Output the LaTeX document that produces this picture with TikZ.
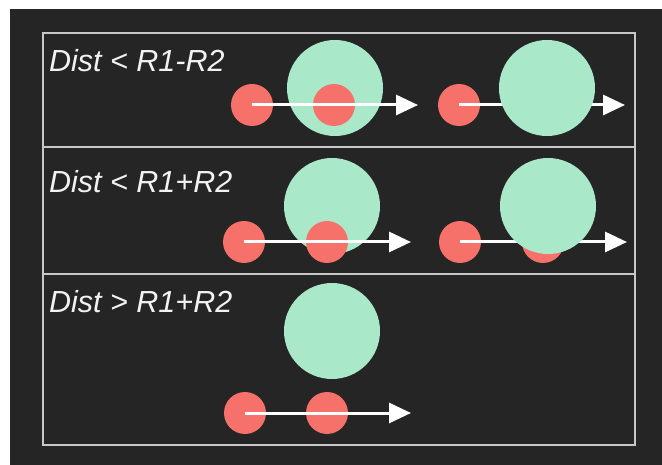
\documentclass[tikz,border=0pt]{standalone}
\usepackage{fontspec}
\setmainfont{Liberation Sans}
\usetikzlibrary{arrows.meta}
\definecolor{bgdark}{HTML}{252525}
\definecolor{framegray}{HTML}{C8C8C8}
\definecolor{redball}{HTML}{F6716A}
\definecolor{greenball}{HTML}{A9E9CA}
\definecolor{txt}{HTML}{F2F2F2}
\tikzset{
  small/.style={circle, fill=redball, minimum size=42pt, inner sep=0pt, draw=none},
  big/.style={circle, fill=greenball, minimum size=96pt, inner sep=0pt, draw=none},
  motion/.style={draw=white, line width=3pt, -{Triangle[length=22pt,width=20pt]}},
  label/.style={anchor=base west, inner sep=0pt, text=txt, font=\fontsize{30.5}{36}\selectfont\itshape},
  framebox/.style={draw=framegray, line width=1.5pt}
}
\begin{document}
\begin{tikzpicture}[x=1pt,y=-1pt]
\useasboundingbox (0,0) rectangle (662,465);
\fill[white] (0,0) rectangle (662,465);
\fill[bgdark] (10,9) rectangle (662,465);
% frame and dividers
\draw[framebox] (43,33) rectangle (635,445);
\draw[framebox] (43,147) -- (635,147);
\draw[framebox] (43,274) -- (635,274);
% labels
\node[label] (t1) at (49,72) {Dist < R1-R2};
\node[label] (t2) at (49,193) {Dist < R1+R2};
\node[label] (t3) at (49,313) {Dist > R1+R2};
% row 1 left
\node[small] (a1) at (252,105) {};
\node[big] (ag) at (335,88) {};
\node[small] (a2) at (334,105) {};
\coordinate (ae) at (418,105);
\draw[motion] (a1.center) -- (ae);
% row 1 right
\node[small] (b1) at (459,105) {};
\node[small] (b2) at (541,105) {};
\coordinate (be) at (625,105);
\draw[motion] (b1.center) -- (be);
\node[big] (bg) at (547,88) {};
% row 2 left
\node[small] (c1) at (244,242) {};
\node[big] (cg) at (332,206) {};
\node[small] (c2) at (327,242) {};
\coordinate (ce) at (411,242);
\draw[motion] (c1.center) -- (ce);
% row 2 right
\node[small] (d1) at (460,242) {};
\node[small] (d2) at (543,242) {};
\coordinate (de) at (627,242);
\draw[motion] (d1.center) -- (de);
\node[big] (dg) at (548,206) {};
% row 3
\node[big] (eg) at (332,331) {};
\node[small] (e1) at (245,413) {};
\node[small] (e2) at (327,413) {};
\coordinate (ee) at (411,413);
\draw[motion] (e1.center) -- (ee);
\end{tikzpicture}
\end{document}
